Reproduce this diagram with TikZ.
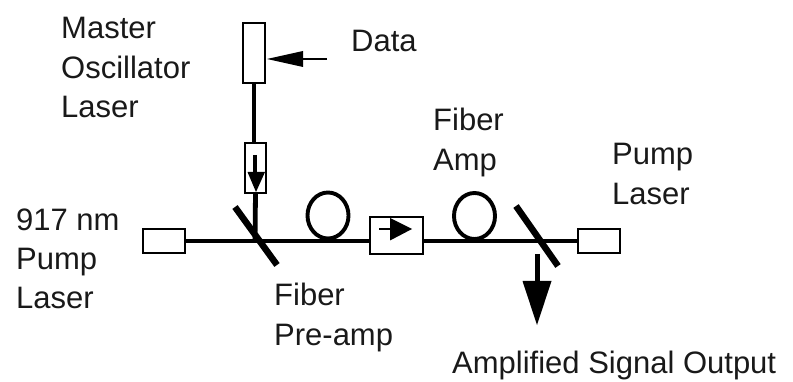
\documentclass[tikz,border=0pt]{standalone}
\usepackage{fontspec}
\usetikzlibrary{shapes.geometric}
\setmainfont{Liberation Sans}
\begin{document}
\begin{tikzpicture}[x=1pt,y=-1pt,
  box/.style={draw=black,fill=white,line width=1.6pt,minimum width=0pt,minimum height=0pt,inner sep=0pt,outer sep=0pt},
  fiber/.style={draw=black,line width=3.4pt},
  thick fiber/.style={draw=black,line width=4.8pt},
  mirror/.style={draw=black,line width=6.5pt},
  loopfiber/.style={draw=black,line width=3.9pt,ellipse,minimum width=41pt,minimum height=46pt,inner sep=0pt},
  lbl/.style={font=\fontsize{31}{39.3}\selectfont,align=left,anchor=west,inner sep=0pt,text=black!90}]
\useasboundingbox (0,0) rectangle (793,382);
% main fibre
\node[box,minimum width=42pt,minimum height=24pt] (lp) at (164,241) {};
\node[box,minimum width=53pt,minimum height=37pt] (iso) at (396.5,235.5) {};
\node[box,minimum width=42pt,minimum height=24pt] (rp) at (599,241) {};
\node[box,minimum width=22pt,minimum height=60pt] (mo) at (254,53) {};
\node[box,minimum width=21pt,minimum height=50pt] (cp) at (255.5,168) {};
\coordinate (j1) at (255,241);
\draw[fiber] (lp.east) -- (j1);
\draw[fiber] (j1) -- (iso.west |- j1);
\draw[fiber] (iso.east |- j1) -- (rp.west |- j1);
% master line
\draw[thick fiber] (mo.south) -- (cp.north -| mo.south);
\draw[thick fiber] (cp.south) -- (j1);
% loops
\node[loopfiber] (l1) at (328,215.5) {};
\node[loopfiber] (l2) at (474.5,216) {};
% mirrors
\coordinate (m1a) at (235,207); \coordinate (m1b) at (277,265);
\coordinate (m2a) at (516,206); \coordinate (m2b) at (558,266);
\draw[mirror] (m1a) -- (m1b);
\draw[mirror] (m2a) -- (m2b);
% data arrow
\coordinate (dt) at (327,59);
\draw[draw=black,line width=1.8pt] (dt) -- (300,59);
\fill[black] (mo.east |- dt) ++(2,0) -- (303,51) -- (303,67) -- cycle;
% coupler arrow
\coordinate (ca) at (254.5,155);
\draw[draw=black,line width=4pt] (ca) -- (254.5,175);
\fill[black] (247.5,172) -- (265,172) -- (256,192) -- cycle;
% isolator arrow
\coordinate (ia) at (379,229);
\draw[draw=black,line width=1.6pt] (ia) -- (392,229);
\fill[black] (390,218) -- (412,229) -- (390,240.5) -- cycle;
% output arrow
\coordinate (oa) at (537,254);
\draw[draw=black,line width=5pt] (oa) -- (537,283);
\fill[black] (522.5,281) -- (551.5,281) -- (537,325) -- cycle;
% labels
\node[lbl] (t1) at (61,67.5) {Master\\Oscillator\\Laser};
\node[lbl] (t2) at (351,41) {Data};
\node[lbl] (t3) at (16,259) {917 nm\\Pump\\Laser};
\node[lbl] (t4) at (433,142.5) {Fiber\\Amp};
\node[lbl] (t5) at (612,174) {Pump\\Laser};
\node[lbl] (t6) at (274,317.5) {Fiber\\Pre-amp};
\node[lbl] (t7) at (452,365) {Amplified Signal Output};
\end{tikzpicture}
\end{document}
